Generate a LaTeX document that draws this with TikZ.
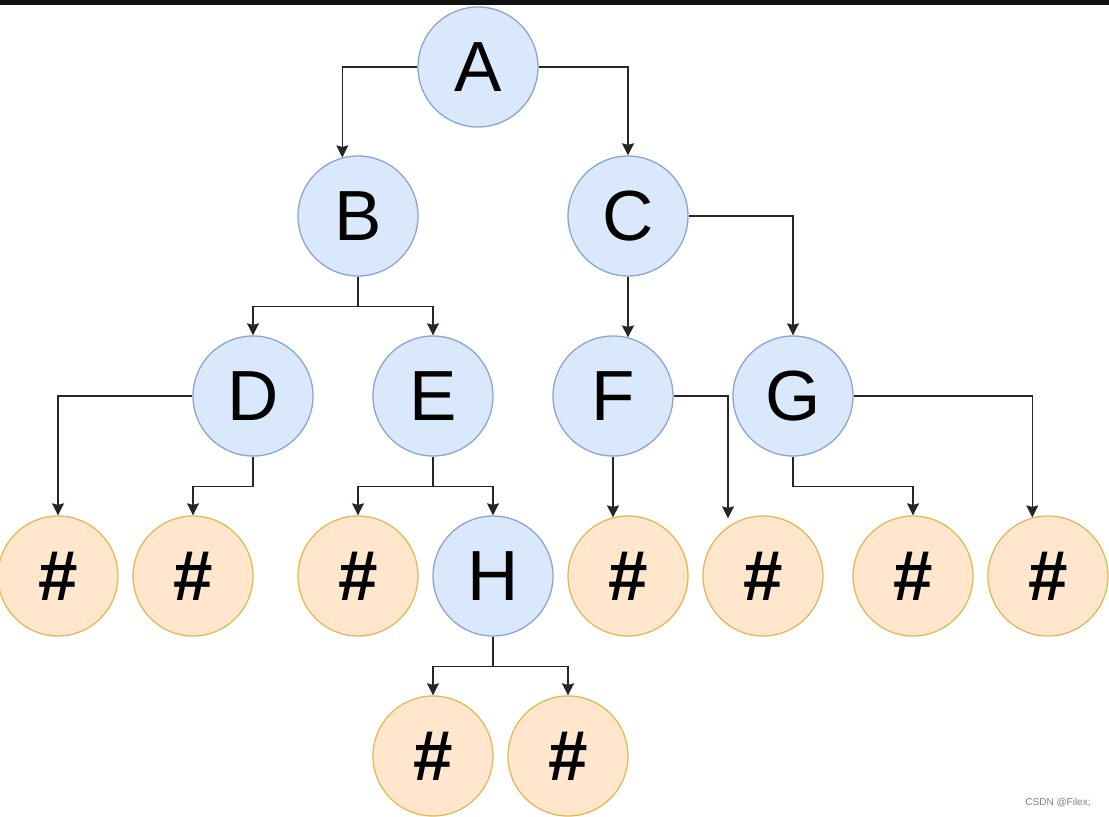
\documentclass[tikz,border=0pt]{standalone}
\usepackage{fontspec}
\setmainfont{Liberation Sans}
\usetikzlibrary{arrows.meta}
\definecolor{bfill}{HTML}{DAE8FC}
\definecolor{bdraw}{HTML}{8AA5D4}
\definecolor{ofill}{HTML}{FFE6CC}
\definecolor{odraw}{HTML}{E0BA55}
\definecolor{bar}{HTML}{111111}
\definecolor{edge}{HTML}{262626}
\begin{document}
\begin{tikzpicture}[x=1pt,y=-1pt,
  inner/.style={circle,draw=bdraw,fill=bfill,line width=1.3pt,minimum size=120pt,inner sep=0pt,font=\fontsize{71}{71}\selectfont},
  leaf/.style={inner,draw=odraw,fill=ofill,font=\fontsize{71}{71}\selectfont\bfseries},
  conn/.style={draw=edge,line width=1.4pt,-{Stealth[length=12pt,width=12pt,inset=1.5pt]}}]
\useasboundingbox (0,0) rectangle (1109,817);
\fill[bar] (0,0) rectangle (1109,5);
% internal nodes
\node[inner] (A) at (478,67) {A};
\node[inner] (B) at (358,216) {B};
\node[inner] (C) at (628,216) {C};
\node[inner] (D) at (253,396) {D};
\node[inner] (E) at (433,396) {E};
\node[inner] (F) at (613,396) {F};
\node[inner] (G) at (793,396) {G};
\node[inner] (H) at (493,576) {H};
% leaves
\node[leaf] (L1) at (58,576) {\#};
\node[leaf] (L2) at (193,576) {\#};
\node[leaf] (L3) at (358,576) {\#};
\node[leaf] (L5) at (628,576) {\#};
\node[leaf] (L6) at (763,576) {\#};
\node[leaf] (L7) at (913,576) {\#};
\node[leaf] (L8) at (1048,576) {\#};
\node[leaf] (L9) at (433,756) {\#};
\node[leaf] (L10) at (568,756) {\#};
% edges
\draw[conn] (A.west) -| (B.105);
\draw[conn] (A.east) -| (C.north);
\draw[conn] (B.south) -- ++(0,30) -| (D.north);
\draw[conn] (B.south) -- ++(0,30) -| (E.north);
\draw[conn] (C.south) -- (C.south |- F.75);
\draw[conn] (C.east) -| (G.north);
\draw[conn] (D.west) -| (L1.north);
\draw[conn] (D.south) -- ++(0,30) -| (L2.north);
\draw[conn] (E.south) -- ++(0,30) -| (L3.north);
\draw[conn] (E.south) -- ++(0,30) -| (H.north);
\draw[conn] (F.south) -- (F.south |- L5.105);
\draw[conn] (F.east) -| ([xshift=-35pt,yshift=-3pt]L6.north);
\draw[conn] (G.south) -- ++(0,30) -| (L7.north);
\draw[conn] (G.east) -| (L8.105);
\draw[conn] (H.south) -- ++(0,30) -| (L9.north);
\draw[conn] (H.south) -- ++(0,30) -| (L10.north);
% watermark
\node[text=black!50,font=\fontsize{10}{10}\selectfont] (wm) at (1058,803) {CSDN @Filex;};
\end{tikzpicture}
\end{document}
